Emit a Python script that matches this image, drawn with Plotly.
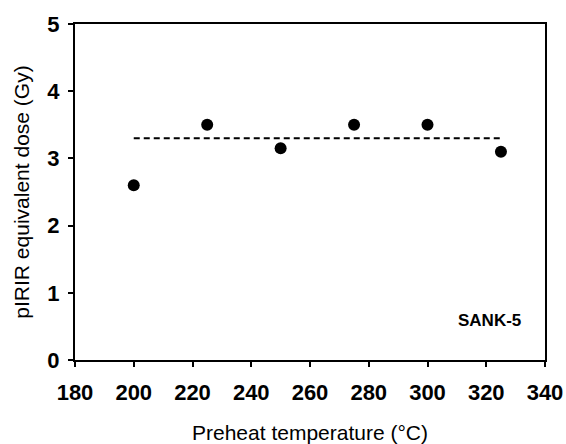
import plotly.graph_objects as go

temps = [200, 225, 250, 275, 300, 325]
doses = [2.6, 3.5, 3.15, 3.5, 3.5, 3.1]
mean_x = [200, 325]
mean_y = [3.3, 3.3]
x_ticks = [180, 200, 220, 240, 260, 280, 300, 320, 340]
y_ticks = [0, 1, 2, 3, 4, 5]

fig = go.Figure()
fig.add_trace(go.Scatter(x=mean_x, y=mean_y, mode="lines",
                         line=dict(color="black", width=2, dash="6px,4px"),
                         showlegend=False, hoverinfo="skip"))
fig.add_trace(go.Scatter(x=temps, y=doses, mode="markers",
                         marker=dict(color="black", size=12),
                         showlegend=False))

fig.add_annotation(x=0.953, y=0.119, xref="paper", yref="paper",
                   text="<b>SANK-5</b>", showarrow=False,
                   xanchor="right", yanchor="middle",
                   font=dict(family="Liberation Sans, Arial", size=17, color="black"))

axis_common = dict(showline=True, linecolor="black", linewidth=2, mirror=True,
                   ticks="outside", ticklen=5, tickwidth=2, tickcolor="black",
                   showgrid=False, zeroline=False, automargin=False,
                   tickfont=dict(family="Liberation Sans, Arial", size=22, color="black", weight="bold"))

fig.update_xaxes(range=[180, 340], tickvals=x_ticks, ticklabelstandoff=7,
                 title=dict(text="Preheat temperature (\u00b0C)", standoff=22,
                            font=dict(family="Liberation Sans, Arial", size=21, color="black")),
                 **axis_common)
fig.update_yaxes(range=[0, 5], tickvals=y_ticks, ticklabelstandoff=4,
                 title=dict(text="pIRIR equivalent dose (Gy)", standoff=12,
                            font=dict(family="Liberation Sans, Arial", size=21, color="black")),
                 **axis_common)

fig.update_layout(width=566, height=444, margin=dict(l=75, r=21, t=24, b=84),
                  plot_bgcolor="white", paper_bgcolor="white")

fig.write_html("out.html")
